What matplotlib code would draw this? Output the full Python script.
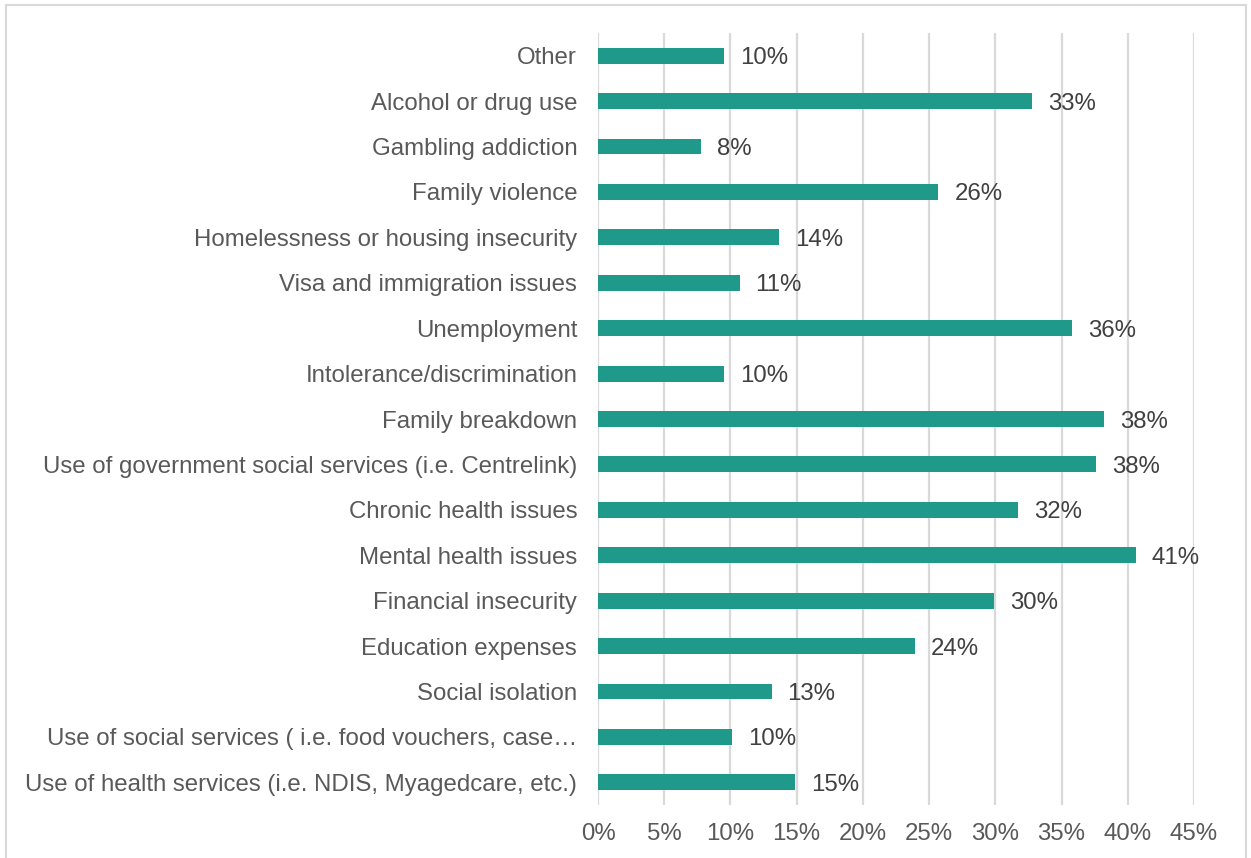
import matplotlib
matplotlib.use("Agg")
import matplotlib.pyplot as plt
from matplotlib.patches import Rectangle
from matplotlib.ticker import FuncFormatter, MultipleLocator

categories = [
    "Other",
    "Alcohol or drug use",
    "Gambling addiction",
    "Family violence",
    "Homelessness or housing insecurity",
    "Visa and immigration issues",
    "Unemployment",
    "Intolerance/discrimination",
    "Family breakdown",
    "Use of government social services (i.e. Centrelink)",
    "Chronic health issues",
    "Mental health issues",
    "Financial insecurity",
    "Education expenses",
    "Social isolation",
    "Use of social services ( i.e. food vouchers, case\u2026",
    "Use of health services (i.e. NDIS, Myagedcare, etc.)",
]
values = [9.5, 32.8, 7.8, 25.7, 13.7, 10.7, 35.8, 9.5, 38.2, 37.6,
          31.7, 40.6, 29.9, 23.9, 13.1, 10.1, 14.9]

BAR = "#1f9a8a"
GRID = "#d9d9d9"
TICK = "#595959"
VAL = "#404040"
FS = 17.3

plt.rcParams["font.family"] = ["Liberation Sans", "DejaVu Sans"]

fig = plt.figure(figsize=(12.51, 8.58), dpi=100)
ax = fig.add_axes([598 / 1251, 1 - 805 / 858, (1194 - 598) / 1251, (805 - 33) / 858])

n = len(categories)
ypos = list(range(n))[::-1]
ax.barh(ypos, values, height=0.35, color=BAR, zorder=3)

for y, v in zip(ypos, values):
    ax.text(v + 1.2, y, f"{v:.0f}%", va="center_baseline", ha="left",
            fontsize=FS, color=VAL, zorder=4)

ax.set_xlim(0, 45)
ax.set_ylim(-0.5, n - 0.5)
ax.xaxis.set_major_locator(MultipleLocator(5))
ax.xaxis.set_major_formatter(FuncFormatter(lambda x, _: f"{x:.0f}%"))
ax.set_yticks(ypos)
ax.set_yticklabels(categories)

ax.grid(axis="x", color=GRID, linewidth=1.6, zorder=0)
ax.set_axisbelow(True)
for s in ax.spines.values():
    s.set_visible(False)
ax.tick_params(axis="both", length=0, labelsize=FS, labelcolor=TICK)
ax.tick_params(axis="y", pad=15)
ax.tick_params(axis="x", pad=13)

fig.patches.append(Rectangle((6 / 1251, -0.01), (1246 - 6) / 1251, 1 - 5 / 858 + 0.01,
                             transform=fig.transFigure, fill=False,
                             edgecolor=GRID, linewidth=1.5))

fig.savefig("out.png", dpi=100)
